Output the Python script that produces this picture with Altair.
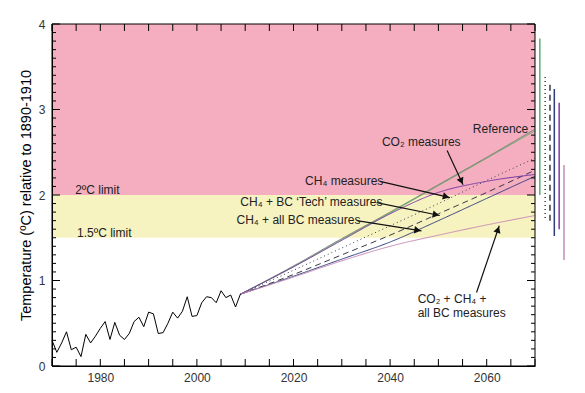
import math
import altair as alt
import pandas as pd

# ---------------- data ----------------
obs_years = list(range(1970, 2010))
obs_temp = [0.30, 0.16, 0.27, 0.40, 0.19, 0.22, 0.11, 0.37, 0.27, 0.35,
            0.44, 0.52, 0.31, 0.51, 0.36, 0.31, 0.38, 0.52, 0.57, 0.46,
            0.63, 0.61, 0.38, 0.39, 0.50, 0.63, 0.56, 0.64, 0.81, 0.58,
            0.59, 0.74, 0.81, 0.80, 0.74, 0.88, 0.80, 0.83, 0.69, 0.84]

proj_years = [2009, 2020, 2030, 2040, 2050, 2060, 2070]
scen_names = ["green", "reference", "ch4", "ch4_bc_tech", "ch4_all_bc", "co2", "all"]
scen_values = {
    "green":       [0.84, 1.16, 1.48, 1.79, 2.11, 2.43, 2.75],
    "reference":   [0.84, 1.17, 1.49, 1.80, 2.12, 2.44, 2.77],
    "ch4":         [0.84, 1.12, 1.38, 1.64, 1.90, 2.17, 2.43],
    "ch4_bc_tech": [0.84, 1.07, 1.30, 1.53, 1.78, 2.03, 2.29],
    "ch4_all_bc":  [0.84, 1.05, 1.25, 1.45, 1.70, 1.96, 2.22],
    "co2":         [0.84, 1.16, 1.47, 1.78, 2.03, 2.16, 2.24],
    "all":         [0.84, 1.04, 1.23, 1.40, 1.53, 1.65, 1.76],
}
scen_colors = ["#5fae6e", "#6f7f6a", "#3a3a48", "#3a3a48", "#2e3c7c", "#7a3aa6", "#c88ab6"]
scen_dashes = [[1, 0], [1, 0], [1, 3], [6, 4], [1, 0], [1, 0], [1, 0]]

# uncertainty bars to the right of the plot
bar_x = [2071.0, 2072.1, 2073.1, 2074.0, 2075.0, 2076.0]
bar_scen = ["green", "ch4", "ch4_bc_tech", "ch4_all_bc", "co2", "all"]
bar_lo = [2.00, 1.73, 1.70, 1.52, 1.60, 1.24]
bar_hi = [3.83, 3.40, 3.30, 3.24, 3.08, 2.35]

# background bands
band_lo = [2.0, 1.5]
band_hi = [4.0, 2.0]
band_colors = ["#f4aec0", "#f7f3c1"]

# annotations
ann_text = ["Reference", "CO\u2082 measures", "CH\u2084 measures",
            "CH\u2084 + BC \u2018Tech\u2019 measures", "CH\u2084 + all BC measures",
            "CO\u2082 + CH\u2084 +", "all BC measures", "2ºC limit", "1.5ºC limit"]
ann_x = [2068.6, 2038.3, 2022.4, 2009.0, 2008.2, 2045.7, 2045.7, 1974.8, 1975.2]
ann_y = [2.77, 2.62, 2.16, 1.92, 1.71, 0.785, 0.625, 2.06, 1.55]
ann_align = ["right", "left", "left", "left", "left", "left", "left", "left", "left"]

arr_x1 = [2051.8, 2037.9, 2037.2, 2033.1, 2057.9]
arr_y1 = [2.52, 2.16, 1.91, 1.70, 0.86]
arr_x2 = [2055.1, 2052.4, 2050.3, 2046.5, 2062.6]
arr_y2 = [2.12, 1.97, 1.76, 1.58, 1.64]

x_ticks = list(range(1970, 2071, 5))
x_labels = [1980, 2000, 2020, 2040, 2060]
y_major = [0, 1, 2, 3, 4]
y_minor = [round(i * 0.1, 1) for i in range(41) if i % 10 != 0]

# ---------------- layout ----------------
W, H = 483, 342
X0, X1 = 1970, 2070
Y0, Y1 = 0, 4
kx = W / (X1 - X0)
ky = H / (Y1 - Y0)
FONT = "Liberation Sans"
TICK_X, TICK_MAJ, TICK_MIN = 7, 8, 4

xs = alt.Scale(domain=[X0, X1], nice=False, zero=False)
ys = alt.Scale(domain=[Y0, Y1], nice=False, zero=True)

obs_df = pd.DataFrame({"year": obs_years, "temp": obs_temp})
rows = []
for s in scen_names:
    for yr, v in zip(proj_years, scen_values[s]):
        rows.append({"scenario": s, "year": yr, "temp": v})
proj_df = pd.DataFrame(rows)
bar_df = pd.DataFrame({"x": bar_x, "scenario": bar_scen, "lo": bar_lo, "hi": bar_hi})
ann_df = pd.DataFrame({"text": ann_text, "x": ann_x, "y": ann_y, "align": ann_align})
arr_df = pd.DataFrame({"x1": arr_x1, "y1": arr_y1, "x2": arr_x2, "y2": arr_y2})

# arrowhead angle / position in pixel space
heads = []
for a, b, c, d in zip(arr_x1, arr_y1, arr_x2, arr_y2):
    dx = (c - a) * kx
    dy = -(d - b) * ky
    L = math.hypot(dx, dy)
    ang = math.degrees(math.atan2(dx, -dy)) % 360
    back = 4.0
    hx = c - dx / L * back / kx
    hy = d + dy / L * back / ky
    heads.append({"x": hx, "y": hy, "angle": ang})
head_df = pd.DataFrame(heads)

# inward frame ticks (built from the tick lists)
tick_rows = []
for v in y_major + y_minor:
    ln = TICK_MAJ if v in y_major else TICK_MIN
    tick_rows.append({"x": X0, "x2": X0 + ln / kx, "y": v, "y2": v})
    tick_rows.append({"x": X1 - ln / kx, "x2": X1, "y": v, "y2": v})
for v in x_ticks:
    tick_rows.append({"x": v, "x2": v, "y": Y0, "y2": Y0 + TICK_X / ky})
    tick_rows.append({"x": v, "x2": v, "y": Y1 - TICK_X / ky, "y2": Y1})
tick_df = pd.DataFrame(tick_rows)

color_enc = alt.Color("scenario:N", scale=alt.Scale(domain=scen_names, range=scen_colors), legend=None)
dash_enc = alt.StrokeDash("scenario:N", scale=alt.Scale(domain=scen_names, range=scen_dashes), legend=None)

# bands
band_layers = []
for lo, hi, col in zip(band_lo, band_hi, band_colors):
    bdf = pd.DataFrame({"x0": [X0], "x1": [X1], "lo": [lo], "hi": [hi]})
    band_layers.append(
        alt.Chart(bdf).mark_rect(color=col, opacity=1).encode(
            x=alt.X("x0:Q", scale=xs, axis=None), x2="x1:Q",
            y=alt.Y("lo:Q", scale=ys, axis=None), y2="hi:Q")
    )

obs = alt.Chart(obs_df).mark_line(color="black", strokeWidth=1).encode(
    x=alt.X("year:Q", scale=xs, axis=alt.Axis(
        orient="bottom", values=x_labels, format="d", ticks=False,
        labelPadding=6, labelFontSize=12, labelFont=FONT, labelColor="#333",
        labelOverlap=False, labelFlush=False, title=None, grid=False,
        domain=True, domainColor="black", zindex=2)),
    y=alt.Y("temp:Q", scale=ys, axis=alt.Axis(
        orient="left", values=y_major, format="d", ticks=False,
        labelPadding=7, labelFontSize=12, labelFont=FONT, labelColor="#333",
        labelOverlap=False, labelFlush=False,
        title="Temperature (ºC) relative to 1890-1910", titleFont=FONT,
        titleFontSize=14.5, titleFontWeight="normal", titleColor="black",
        titleX=-19, titleY=H / 2, grid=False,
        domain=True, domainColor="black", zindex=2)),
)

proj = alt.Chart(proj_df).mark_line(strokeWidth=1, interpolate="monotone").encode(
    x=alt.X("year:Q", scale=xs, axis=None),
    y=alt.Y("temp:Q", scale=ys, axis=None),
    color=color_enc, strokeDash=dash_enc, detail="scenario:N",
)

bars = alt.Chart(bar_df).mark_rule(strokeWidth=1.5).encode(
    x=alt.X("x:Q", scale=xs, axis=None),
    y=alt.Y("lo:Q", scale=ys, axis=None), y2="hi:Q",
    color=color_enc, strokeDash=dash_enc,
)

arrows = alt.Chart(arr_df).mark_rule(color="#111", strokeWidth=1.2).encode(
    x=alt.X("x1:Q", scale=xs, axis=None), x2="x2:Q",
    y=alt.Y("y1:Q", scale=ys, axis=None), y2="y2:Q",
)

heads_l = alt.Chart(head_df).mark_point(shape="triangle-up", filled=True, color="#111",
                                         size=55, opacity=1).encode(
    x=alt.X("x:Q", scale=xs, axis=None),
    y=alt.Y("y:Q", scale=ys, axis=None),
    angle=alt.Angle("angle:Q", scale=None),
)

texts = []
for al in ["left", "right"]:
    texts.append(
        alt.Chart(ann_df[ann_df["align"] == al]).mark_text(
            align=al, baseline="middle", font=FONT, fontSize=12, color="#222").encode(
            x=alt.X("x:Q", scale=xs, axis=None),
            y=alt.Y("y:Q", scale=ys, axis=None),
            text="text:N")
    )

ticks_l = alt.Chart(tick_df).mark_rule(color="black", strokeWidth=1).encode(
    x=alt.X("x:Q", scale=xs, axis=None), x2="x2:Q",
    y=alt.Y("y:Q", scale=ys, axis=None), y2="y2:Q",
)

frame_df = pd.DataFrame({"x0": [X0], "x1": [X1], "lo": [Y0], "hi": [Y1]})
frame = alt.Chart(frame_df).mark_rect(fillOpacity=0, stroke="black", strokeWidth=1).encode(
    x=alt.X("x0:Q", scale=xs, axis=None), x2="x1:Q",
    y=alt.Y("lo:Q", scale=ys, axis=None), y2="hi:Q",
)

chart = alt.layer(*band_layers, proj, obs, bars, arrows, heads_l, *texts,
                  ticks_l, frame).resolve_axis(
    x="independent", y="independent"
).properties(
    width=W, height=H,
    autosize=alt.AutoSizeParams(type="none"),
    padding={"left": 44, "top": 16, "right": 42, "bottom": 19},
    background="white",
).configure_view(stroke=None)

chart.save("out.html", embed_options={"renderer": "svg", "actions": False})
